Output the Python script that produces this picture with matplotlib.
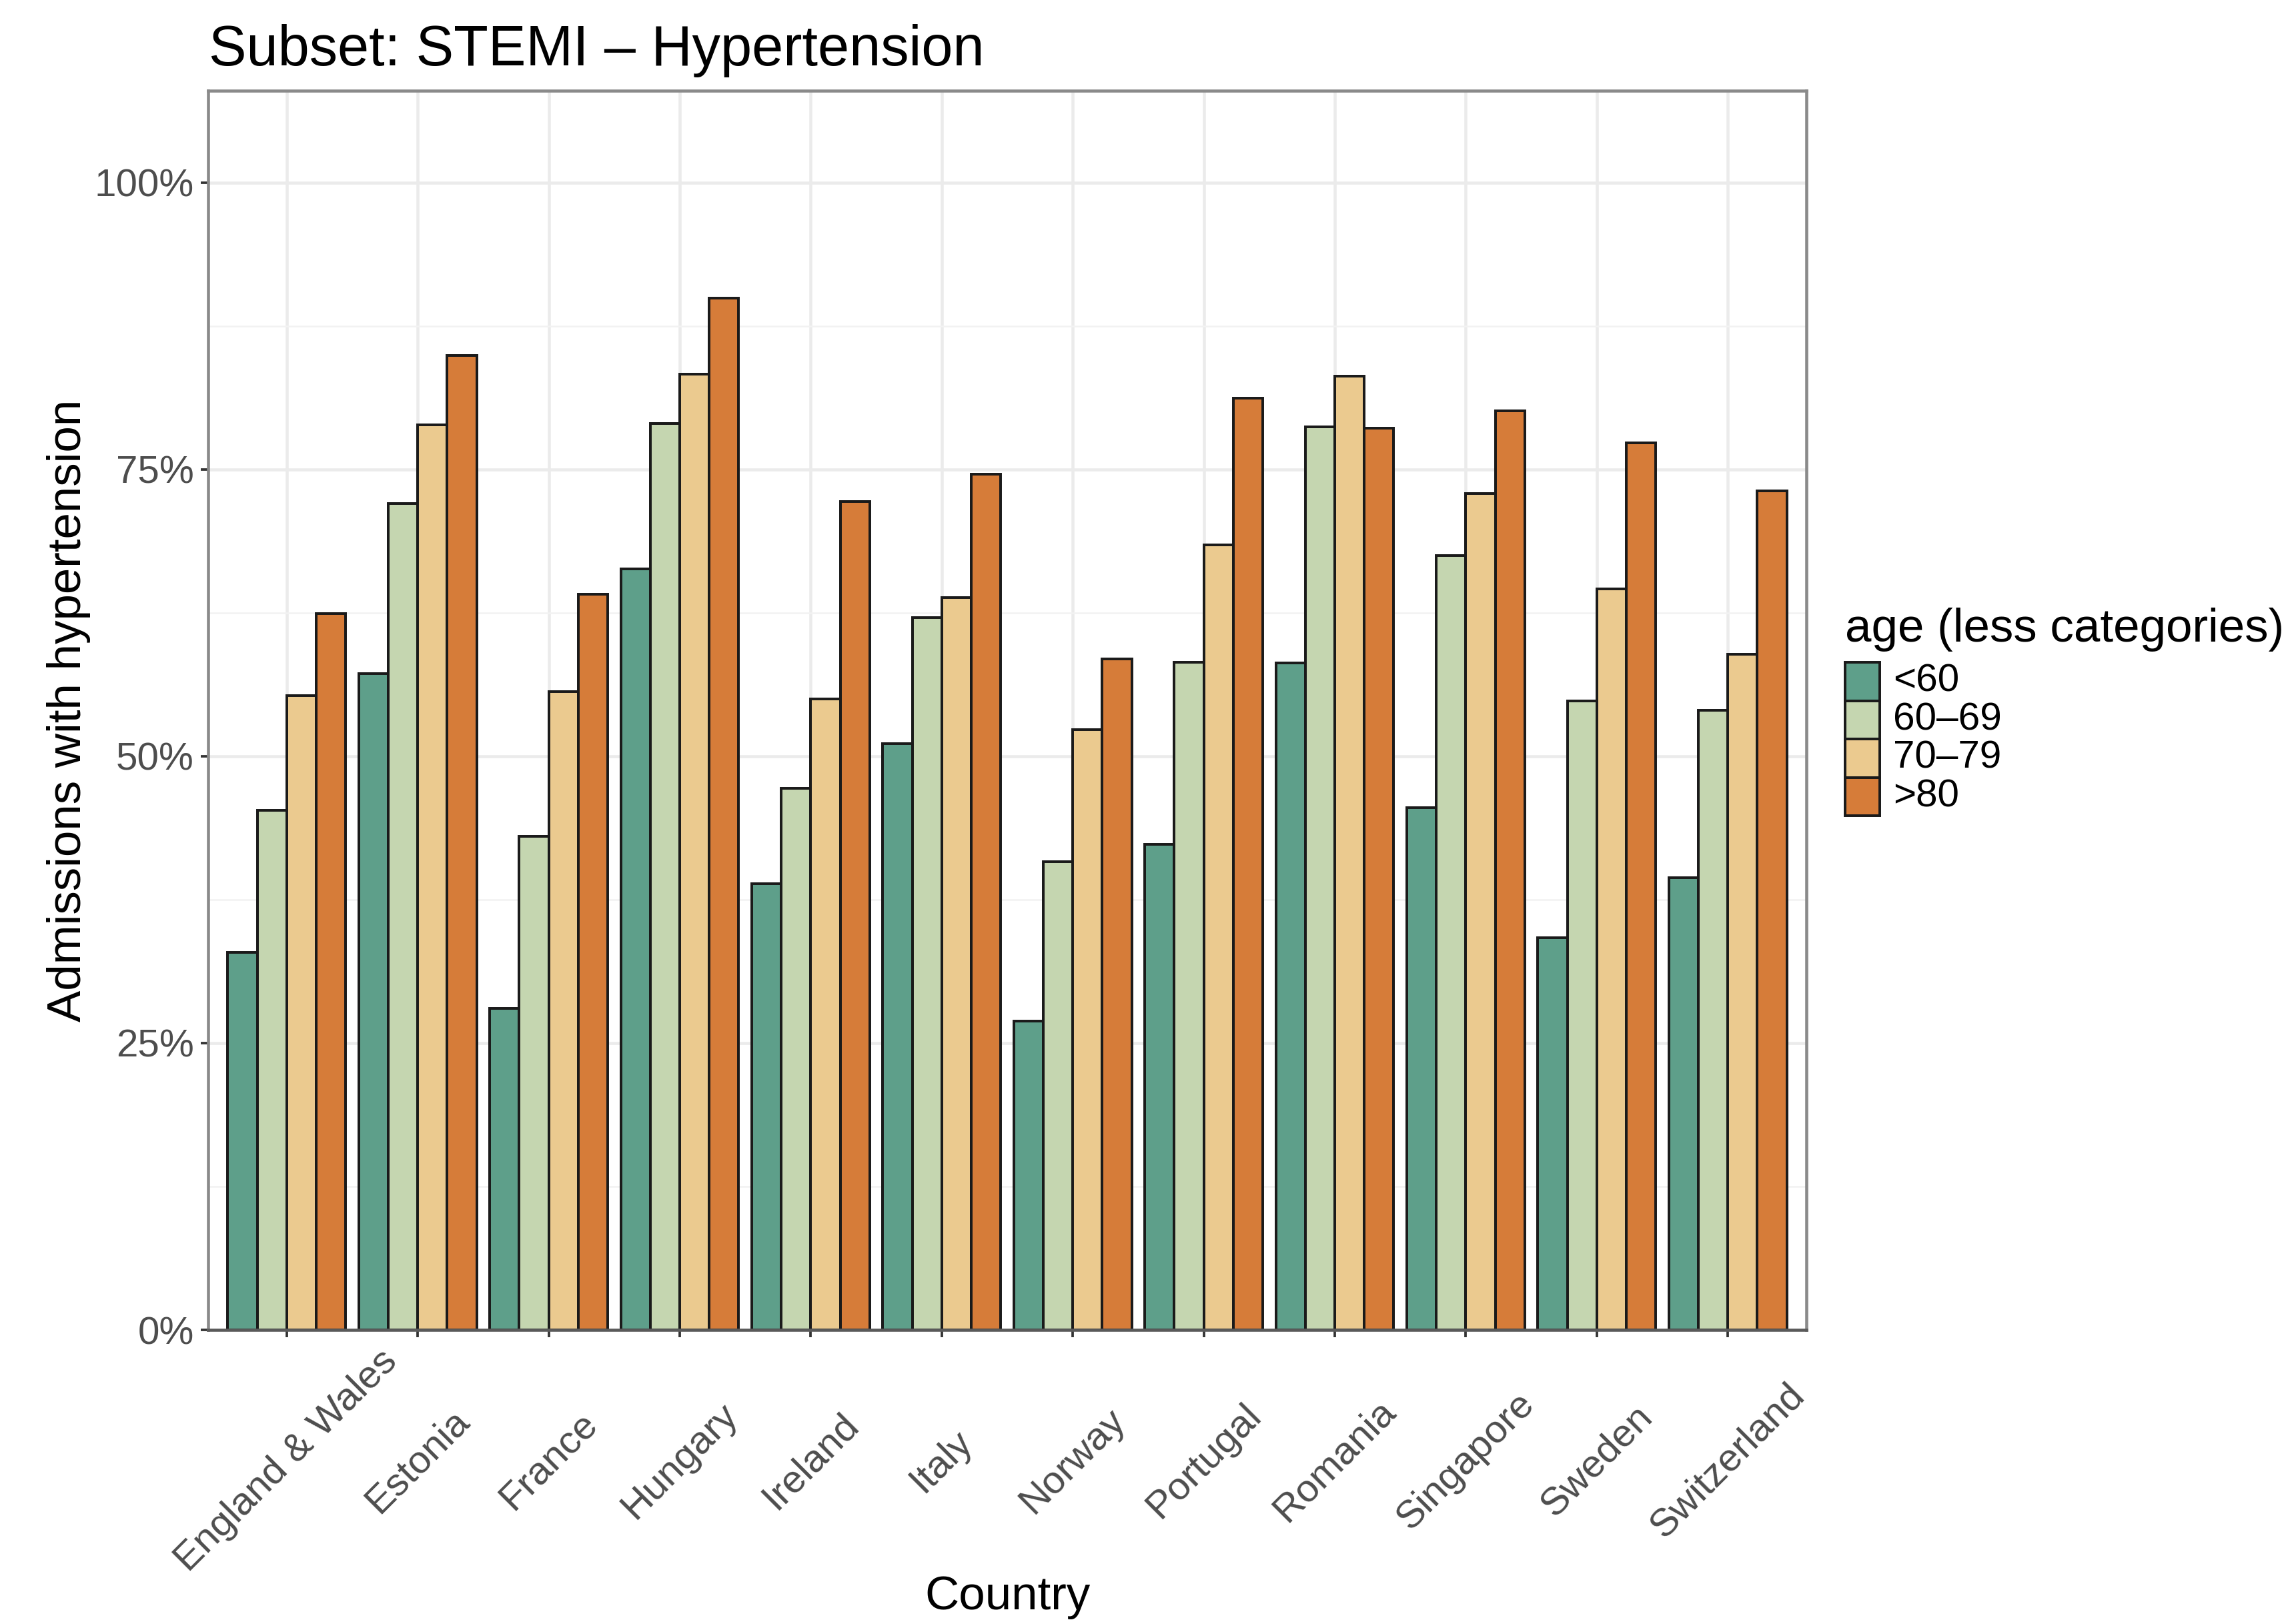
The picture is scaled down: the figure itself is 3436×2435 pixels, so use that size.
import matplotlib
matplotlib.use("Agg")
import matplotlib.pyplot as plt
from matplotlib.patches import Rectangle
from matplotlib.ticker import FixedLocator, PercentFormatter
import numpy as np

plt.rcParams['font.family'] = ['Liberation Sans', 'DejaVu Sans']

countries = ["England & Wales", "Estonia", "France", "Hungary", "Ireland", "Italy",
             "Norway", "Portugal", "Romania", "Singapore", "Sweden", "Switzerland"]
age_groups = ["<60", "60\u201369", "70\u201379", ">80"]
colors = ["#5E9F8A", "#C5D6B0", "#EBCA8F", "#D67C39"]

lt60 = [32.9, 57.2, 28.0, 66.3, 38.9, 51.1, 26.9, 42.3, 58.1, 45.5, 34.2, 39.4]
a60_69 = [45.3, 72.0, 43.0, 79.0, 47.2, 62.1, 40.8, 58.2, 78.7, 67.5, 54.8, 54.0]
a70_79 = [55.3, 78.9, 55.6, 83.3, 55.0, 63.8, 52.3, 68.4, 83.1, 72.9, 64.6, 58.9]
gt80 = [62.4, 84.9, 64.1, 89.9, 72.2, 74.6, 58.5, 81.2, 78.6, 80.1, 77.3, 73.1]
series = [lt60, a60_69, a70_79, gt80]

W, H = 3436, 2435
DPI = 300
fig = plt.figure(figsize=(W / DPI, H / DPI), dpi=DPI)

def fx(px):
    return px / W

def fy(py):
    return 1 - py / H

left, right, top, bottom = 312, 2708, 136, 1994
ax = fig.add_axes([fx(left), fy(bottom), fx(right) - fx(left), fy(top) - fy(bottom)])

x = np.arange(len(countries))
bw = 0.225
for j, (vals, c) in enumerate(zip(series, colors)):
    ax.bar(x + (j - 1.5) * bw, np.array(vals) / 100.0, width=bw, color=c,
           edgecolor="#1a1a1a", linewidth=0.95, zorder=3)

ax.set_xlim(-0.6, len(countries) - 0.4)
ax.set_ylim(0, 1.08)

ax.yaxis.set_major_locator(FixedLocator([0, 0.25, 0.5, 0.75, 1.0]))
ax.yaxis.set_minor_locator(FixedLocator([0.125, 0.375, 0.625, 0.875]))
ax.yaxis.set_major_formatter(PercentFormatter(1.0, decimals=0))
ax.set_xticks(x)
ax.set_xticklabels(countries, rotation=45, ha="center", va="center",
                   rotation_mode="anchor")

ax.grid(True, which="major", axis="both", color="#EBEBEB", linewidth=1.1, zorder=0)
ax.grid(True, which="minor", axis="y", color="#F2F2F2", linewidth=0.6, zorder=0)
ax.set_axisbelow(True)

ax.tick_params(axis="both", which="major", length=2.64, width=0.9, color="#333333",
               labelsize=14, labelcolor="#4D4D4D")
ax.tick_params(axis="y", which="major", pad=2.4)
ax.tick_params(axis="x", which="major", pad=44.6)
ax.tick_params(axis="y", which="minor", length=0)

for name, s in ax.spines.items():
    s.set_color("#8A8A8A")
    s.set_linewidth(1.1)
    s.set_zorder(5)
ax.spines["bottom"].set_color("#5A5A5A")

# titles
fig.text(fx(313), fy(98), "Subset: STEMI \u2013 Hypertension", fontsize=20.3,
         ha="left", va="baseline", color="black")
fig.text(fx((left + right) / 2), fy(2395), "Country", fontsize=17,
         ha="center", va="center", color="black")
fig.text(fx(103), fy((top + bottom) / 2), "Admissions with hypertension", fontsize=17,
         ha="center", va="center", rotation=90, color="black")

# legend (manual)
fig.text(fx(2766), fy(962), "age (less categories)", fontsize=17,
         ha="left", va="baseline", color="black")
key_top, key_h, key_x, key_w = 993, 57.5, 2766, 52
for i, (lab, c) in enumerate(zip(age_groups, colors)):
    y0 = key_top + i * key_h
    fig.add_artist(Rectangle((fx(key_x), fy(y0 + key_h)), fx(key_w), key_h / H,
                             transform=fig.transFigure, facecolor=c,
                             edgecolor="#1a1a1a", linewidth=0.95))
    fig.text(fx(2838), fy(y0 + key_h / 2), lab, fontsize=14,
             ha="left", va="center", color="black")

fig.savefig("out.png", dpi=DPI)
